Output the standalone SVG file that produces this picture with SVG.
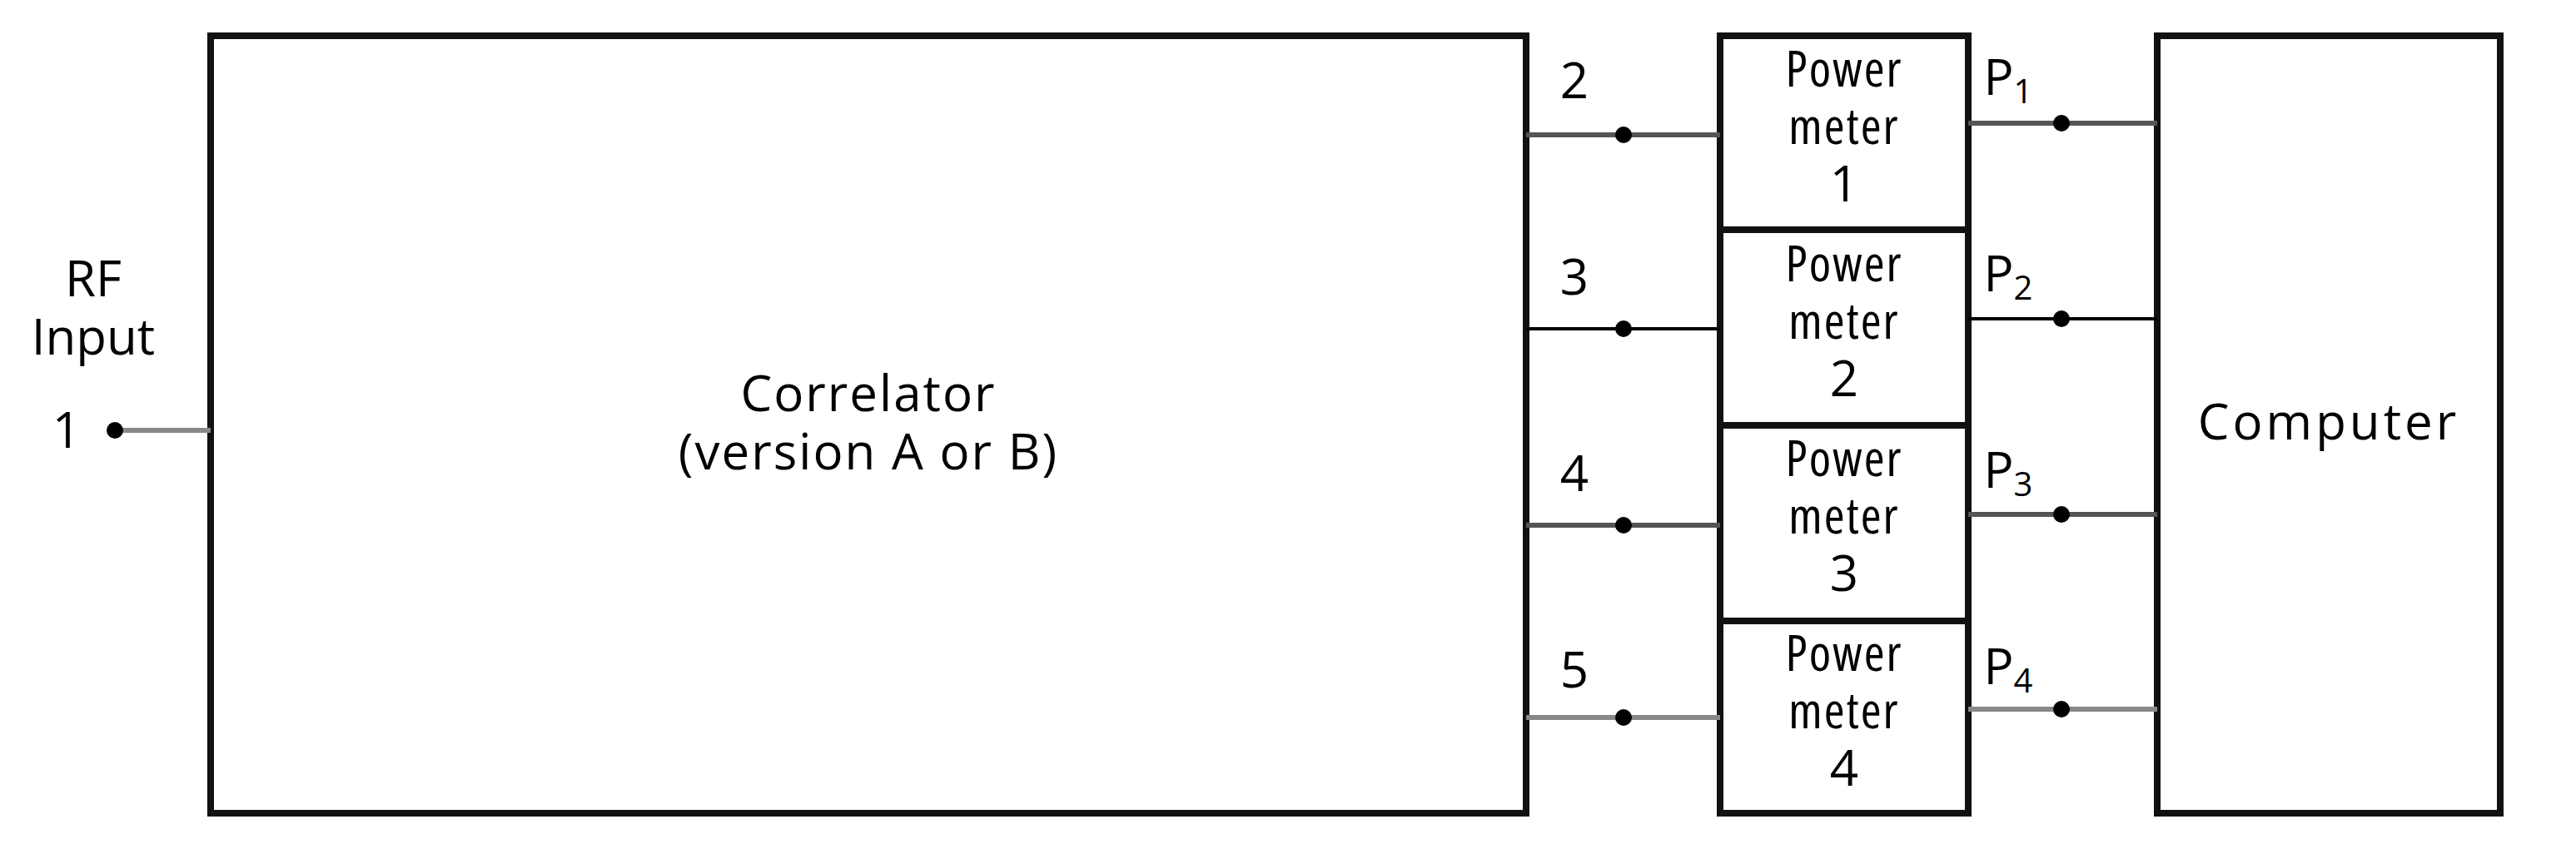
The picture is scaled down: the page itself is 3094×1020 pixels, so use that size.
<svg xmlns="http://www.w3.org/2000/svg" width="3094" height="1020" viewBox="0 0 3094 1020">
<style>
.box{fill:#fff;stroke:#111;stroke-width:8}
.t{font-family:"Open Sans","Liberation Sans",sans-serif;font-size:60px;fill:#000;text-anchor:middle}
.s{font-stretch:condensed;letter-spacing:2px}
.l{stroke:#555;stroke-width:6}
.g{stroke:#888;stroke-width:6}
.k{stroke:#000;stroke-width:4}
</style>
<rect width="3094" height="1020" fill="#fff"/>
<g id="input">
<text class="t" x="112" y="356">RF</text>
<text class="t" x="112" y="426">Input</text>
<text class="t" x="80" y="538">1</text>
</g>
<g id="correlator">
<rect class="box" x="253" y="43" width="1580" height="934"/>
<text class="t" x="1043" y="494" letter-spacing="2">Correlator</text>
<text class="t" x="1043" y="564" letter-spacing="2">(version A or B)</text>
</g>
<g id="pm1"><rect class="box" x="2066" y="43" width="298" height="233"/>
<text class="t s" x="2215" y="104">Power</text><text class="t s" x="2215" y="173">meter</text><text class="t" x="2215" y="242">1</text></g>
<g id="pm2"><rect class="box" x="2066" y="276" width="298" height="235"/>
<text class="t s" x="2215" y="338">Power</text><text class="t s" x="2215" y="407">meter</text><text class="t" x="2215" y="476">2</text></g>
<g id="pm3"><rect class="box" x="2066" y="511" width="298" height="235"/>
<text class="t s" x="2215" y="572">Power</text><text class="t s" x="2215" y="641">meter</text><text class="t" x="2215" y="710">3</text></g>
<g id="pm4"><rect class="box" x="2066" y="746" width="298" height="231"/>
<text class="t s" x="2215" y="806">Power</text><text class="t s" x="2215" y="875">meter</text><text class="t" x="2215" y="944">4</text></g>
<g id="computer">
<rect class="box" x="2591" y="43" width="412" height="934"/>
<text class="t" x="2797" y="528" letter-spacing="4">Computer</text>
</g>
<g id="connectors">
<line class="g" x1="138" y1="517" x2="253" y2="517"/><circle cx="138" cy="517" r="10"/>
<line class="l" x1="1833" y1="162" x2="2066" y2="162"/><circle cx="1950" cy="162" r="10"/>
<line class="k" x1="1833" y1="395" x2="2066" y2="395"/><circle cx="1950" cy="395" r="10"/>
<line class="l" x1="1833" y1="631" x2="2066" y2="631"/><circle cx="1950" cy="631" r="10"/>
<line class="g" x1="1833" y1="862" x2="2066" y2="862"/><circle cx="1950" cy="862" r="10"/>
<line class="l" x1="2364" y1="148" x2="2591" y2="148"/><circle cx="2476" cy="148" r="10"/>
<line class="k" x1="2364" y1="383" x2="2591" y2="383"/><circle cx="2476" cy="383" r="10"/>
<line class="l" x1="2364" y1="618" x2="2591" y2="618"/><circle cx="2476" cy="618" r="10"/>
<line class="g" x1="2364" y1="852" x2="2591" y2="852"/><circle cx="2476" cy="852" r="10"/>
<text class="t" x="1891" y="118">2</text>
<text class="t" x="1891" y="354">3</text>
<text class="t" x="1891" y="590">4</text>
<text class="t" x="1891" y="826">5</text>
<text class="t" x="2412" y="114">P<tspan font-size="40" dy="10">1</tspan></text>
<text class="t" x="2412" y="350">P<tspan font-size="40" dy="10">2</tspan></text>
<text class="t" x="2412" y="586">P<tspan font-size="40" dy="10">3</tspan></text>
<text class="t" x="2412" y="822">P<tspan font-size="40" dy="10">4</tspan></text>
</g>
</svg>
